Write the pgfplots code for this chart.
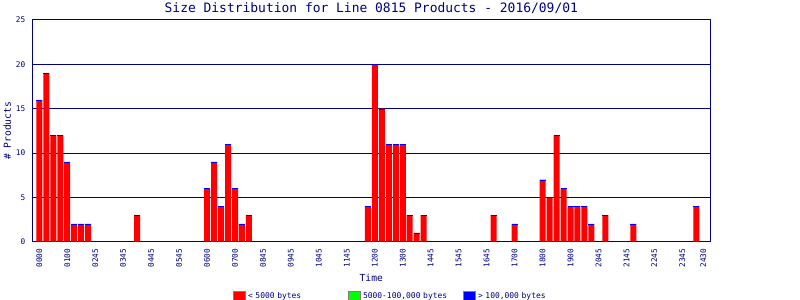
\documentclass[border=0pt]{standalone}
\usepackage{pgfplots}
\pgfplotsset{compat=1.18}
\usepackage{fontspec}
\setmainfont{DejaVu Sans Mono}
\definecolor{navy}{RGB}{0,0,128}
\definecolor{barred}{RGB}{255,0,0}
\definecolor{bargreen}{RGB}{0,255,0}
\definecolor{barblue}{RGB}{0,0,255}
\definecolor{boxgray}{RGB}{128,128,128}
\pgfplotstableread{
slot value
0 16
1 19
2 12
3 12
4 9
5 2
6 2
7 2
14 3
24 6
25 9
26 4
27 11
28 6
29 2
30 3
47 4
48 20
49 15
50 11
51 11
52 11
53 3
54 1
55 3
65 3
68 2
72 7
73 5
74 12
75 6
76 4
77 4
78 4
79 2
81 3
85 2
94 4
}\sizedata
\begin{document}
\begin{tikzpicture}
\useasboundingbox (0,0) rectangle (800bp,300bp);
\begin{axis}[
  at={(32.3bp,58.3bp)}, anchor=south west,
  scale only axis, width=678bp, height=221.7bp,
  xmin=-1, xmax=96, ymin=0, ymax=25,
  ytick={0,5,10,15,20,25},
  xtick={0,4,8,12,16,20,24,28,32,36,40,44,48,52,56,60,64,68,72,76,80,84,88,92,95},
  xticklabels={0000,0100,0245,0345,0445,0545,0600,0700,0845,0945,1045,1145,1200,1300,1445,1545,1645,1700,1800,1900,2045,2145,2245,2345,2430},
  major tick length=0pt,
  ymajorgrids,
  grid style={navy, line width=1bp},
  axis line style={navy, line width=1bp},
  /pgf/number format/assume math mode=true,
  tick label style={navy, font=\fontsize{7.8}{8}\selectfont},
  y tick label style={xshift=-3.5bp},
  x tick label style={yshift=-3.5bp, rotate=90, anchor=east},
  every axis title shift=0pt,
  title={Size Distribution for Line 0815 Products - 2016/09/01},
  title style={at={(axis description cs:0.5,1)}, anchor=base, yshift=7bp, navy, font=\fontsize{13}{15}\selectfont},
  xlabel={Time},
  xlabel style={at={(axis description cs:0.5,0)}, anchor=center, yshift=-36bp, navy, font=\fontsize{9.7}{11}\selectfont},
  ylabel={\# Products},
  ylabel style={at={(axis description cs:0,0.5)}, anchor=center, yshift=25bp, navy, font=\fontsize{9.7}{11}\selectfont},
  legend columns=3,
  legend style={at={(axis description cs:0,0)}, anchor=west, xshift=200.7bp, yshift=-54.5bp,
    draw=none, fill=none, inner sep=0pt, outer sep=0pt, font=\fontsize{8}{9}\selectfont, text=navy,
    /tikz/every odd column/.append style={column sep=2bp},
    nodes={inner xsep=0pt, inner ysep=1pt, text width=100bp}},
]
\addlegendimage{legend image code/.code={\draw[fill=barred, draw=boxgray, line width=1bp] (0bp,-4.5bp) rectangle (12bp,4.5bp);}}
\addlegendentry{< 5000 bytes}
\addlegendimage{legend image code/.code={\draw[fill=bargreen, draw=boxgray, line width=1bp] (0bp,-4.5bp) rectangle (12bp,4.5bp);}}
\addlegendentry{5000-100,000 bytes}
\addlegendimage{legend image code/.code={\draw[fill=barblue, draw=boxgray, line width=1bp] (0bp,-4.5bp) rectangle (12bp,4.5bp);}}
\addlegendentry{> 100,000 bytes}
\addplot[ybar, bar width=6bp, fill=barred, draw=none, forget plot] table[x=slot, y=value] {\sizedata};
\addplot[only marks, mark=-, mark size=3bp, mark options={draw=barblue, line width=1bp, yshift=-0.5bp}, forget plot] table[x=slot, y=value] {\sizedata};
\end{axis}
\end{tikzpicture}
\end{document}
